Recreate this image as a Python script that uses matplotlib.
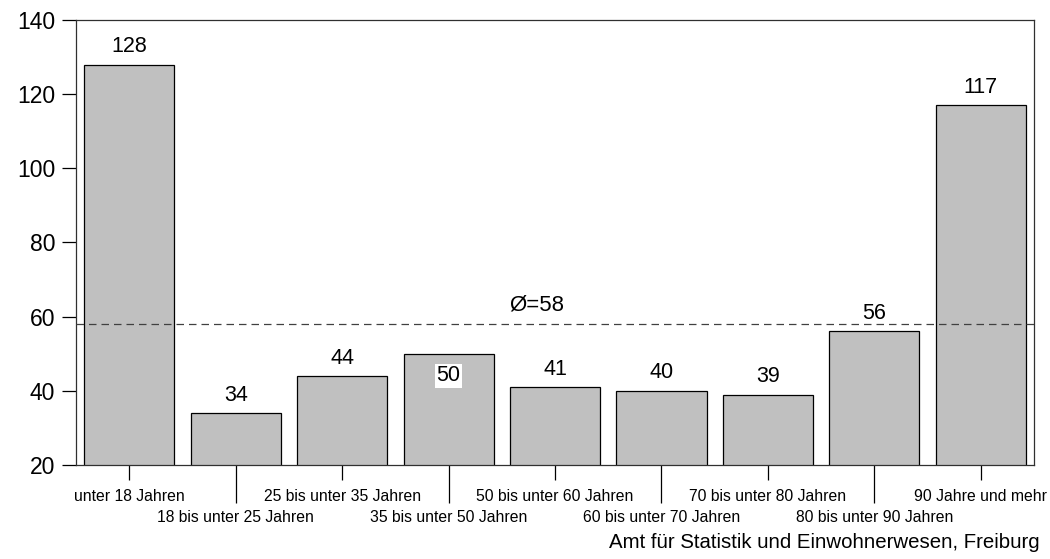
import matplotlib.pyplot as plt
from matplotlib.ticker import FixedLocator

plt.rcParams['font.family'] = ['Liberation Sans', 'DejaVu Sans']

altersgruppen = ["unter 18 Jahren", "18 bis unter 25 Jahren", "25 bis unter 35 Jahren",
                 "35 bis unter 50 Jahren", "50 bis unter 60 Jahren", "60 bis unter 70 Jahren",
                 "70 bis unter 80 Jahren", "80 bis unter 90 Jahren", "90 Jahre und mehr"]
werte = [128, 34, 44, 50, 41, 40, 39, 56, 117]
durchschnitt = 58

fig = plt.figure(figsize=(10.5, 5.59), dpi=100)
ax = fig.add_axes([0.0724, 0.1682, 0.9124, 0.796])

x = list(range(len(werte)))
ax.bar(x, werte, width=0.846, color="#c0c0c0", edgecolor="black", linewidth=0.9, zorder=2)

ax.axhline(durchschnitt, color="#404040", linestyle=(0, (6, 4)), linewidth=0.9, zorder=3)
ax.text(3.83, durchschnitt + 2.2, "Ø=58", ha="center", va="bottom", fontsize=16)

for xi, w in zip(x, werte):
    if w == 50:
        # Wert liegt zu nah an der Durchschnittslinie, daher in den Balken
        ax.text(xi, w - 6, str(w), ha="center", va="center", fontsize=15.5,
                bbox=dict(facecolor="white", edgecolor="none", pad=1), zorder=4)
    else:
        ax.text(xi, w + 2.0, str(w), ha="center", va="bottom", fontsize=15.5, zorder=4)

ax.set_xlim(-0.5, len(werte) - 0.5)
ax.set_ylim(20, 140)
ax.set_yticks(range(20, 141, 20))
ax.tick_params(axis="y", direction="out", length=10, width=0.9, labelsize=16.5, pad=5)

# Beschriftungen abwechselnd in zwei Zeilen
ax.xaxis.set_major_locator(FixedLocator(x[0::2]))
ax.xaxis.set_minor_locator(FixedLocator(x[1::2]))
ax.set_xticklabels(altersgruppen[0::2])
ax.set_xticklabels(altersgruppen[1::2], minor=True)
ax.tick_params(axis="x", which="major", direction="out", length=11, width=0.9,
               labelsize=11.3, pad=6.5)
ax.tick_params(axis="x", which="minor", direction="out", length=27, width=0.9,
               labelsize=11.3, pad=5.5)

for s in ax.spines.values():
    s.set_linewidth(0.9)
    s.set_color("#303030")

fig.text(0.99, 0.012, "Amt für Statistik und Einwohnerwesen, Freiburg",
         ha="right", va="bottom", fontsize=14.7)

fig.savefig("out.png", dpi=100, facecolor="white")
plt.close(fig)
